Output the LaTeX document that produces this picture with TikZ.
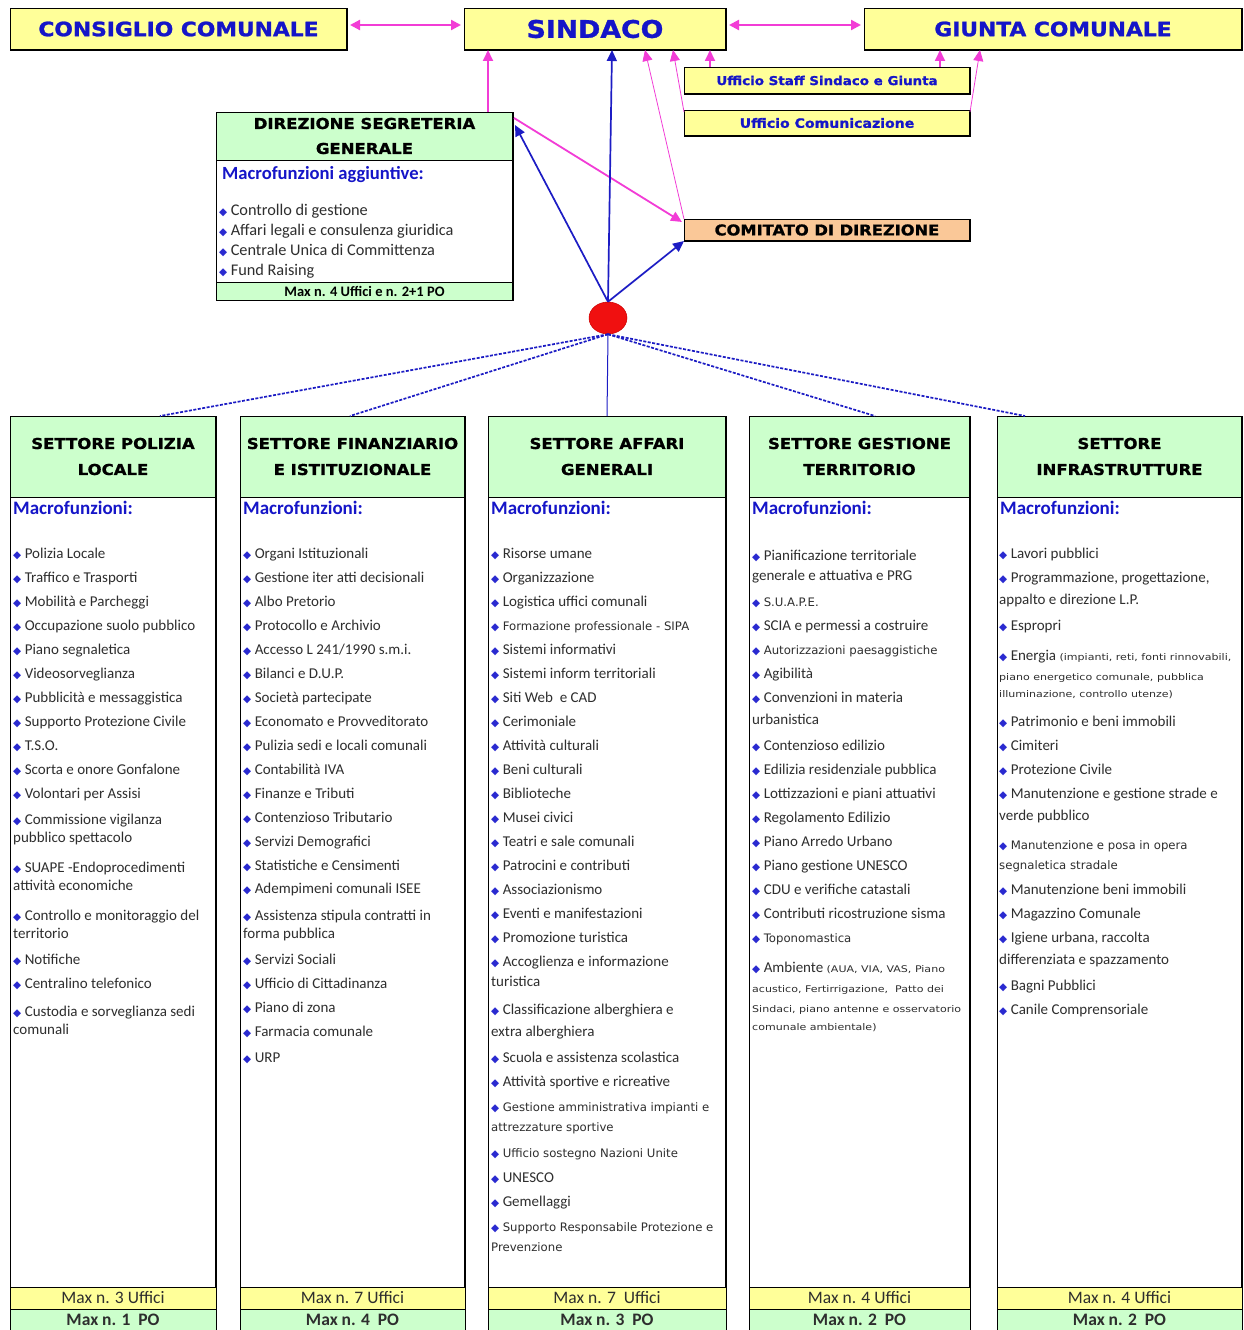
\documentclass[tikz,border=0pt]{standalone}
\usepackage{fontspec}
\setmainfont{Carlito}
\newfontfamily\dvfont{DejaVu Sans}
\newfontfamily\dvwide{DejaVu Sans}[FakeStretch=1.2]
\newfontfamily\blackfont{DejaVu Sans Bold}[FakeStretch=1.1, FakeBold=1.2]
\newfontfamily\libfont{Liberation Sans}
\usetikzlibrary{arrows.meta,calc,shapes.geometric}
\definecolor{yel}{HTML}{FFFF99}
\definecolor{grn}{HTML}{CCFFCC}
\definecolor{org}{HTML}{FAC898}
\definecolor{pnk}{HTML}{F23CD6}
\definecolor{blu}{HTML}{1C1CC4}
\definecolor{tblue}{HTML}{1515C8}
\definecolor{bul}{HTML}{2A2AD0}
\definecolor{txt}{HTML}{2E2E2E}
\definecolor{dotred}{HTML}{F01010}
\newcommand\bl{{\dvfont\fontsize{10.5}{9}\selectfont\textcolor{bul}{◆}}\hspace{3.5pt}}
\newcommand\smf{\dvfont\fontsize{11.7}{13}\selectfont}
\newcommand\xsf{\dvwide\fontsize{9.2}{10}\selectfont}
\tikzset{
  bx/.style={draw=black, line width=0.7pt, inner sep=0pt, outer sep=0pt},
  topt/.style={font=\blackfont\fontsize{19.8}{22}\selectfont, text=tblue},
  smallt/.style={font=\blackfont\fontsize{12.2}{14}\selectfont, text=tblue},
  hdr/.style={bx, fill=grn, align=center, font=\blackfont\fontsize{15}{26}\selectfont, text=black},
  tipa/.style={-{Triangle[length=11pt,width=10pt]}},
  pa/.style={draw=pnk, line width=1.8pt, tipa},
  pthin/.style={draw=pnk, line width=0.8pt, tipa},
  pdbl/.style={draw=pnk, line width=2.2pt, {Triangle[length=10pt,width=10pt]}-{Triangle[length=10pt,width=10pt]}},
  ba/.style={draw=blu, line width=1.7pt, tipa},
  dl/.style={draw=blu, line width=1.7pt, dash pattern=on 3pt off 1.5pt},
  item/.style={anchor=base west, inner sep=0pt, text=txt, font=\fontsize{15}{17}\selectfont},
  mf/.style={anchor=base west, inner sep=0pt, text=tblue, font=\bfseries\fontsize{19}{21}\selectfont},
}
\begin{document}
\begin{tikzpicture}[x=1pt,y=-1pt]
\fill[white] (0,0) rectangle (1244,1330);
\path[use as bounding box] (0,0) rectangle (1244,1330);

% top row
\node[bx, fill=yel, minimum width=337pt, minimum height=42pt, topt] (cc) at (178.5,29) {CONSIGLIO COMUNALE};
\node[bx, fill=yel, minimum width=262pt, minimum height=42pt, topt, font=\blackfont\fontsize{24.3}{26}\selectfont] (sin) at (595,29) {SINDACO};
\node[bx, fill=yel, minimum width=378pt, minimum height=42pt, topt] (gc) at (1053,29) {GIUNTA COMUNALE};
\node[bx, fill=yel, minimum width=286pt, minimum height=27pt, smallt] (staff) at (827,80.5) {Ufficio Staff Sindaco e Giunta};
\node[bx, fill=yel, minimum width=286pt, minimum height=26pt, smallt, font=\blackfont\fontsize{12.8}{14}\selectfont] (comm) at (827,123) {Ufficio Comunicazione};
\node[bx, fill=org, minimum width=286pt, minimum height=22pt, font=\blackfont\fontsize{14.8}{16}\selectfont] (com) at (827,230) {COMITATO DI DIREZIONE};

% direzione segreteria generale
\node[hdr, minimum width=297pt, minimum height=48pt, font=\blackfont\fontsize{15}{25}\selectfont] (dsgh) at (364.5,136) {DIREZIONE SEGRETERIA\\GENERALE};
\node[bx, fill=white, minimum width=297pt, minimum height=122pt] (dsgb) at (364.5,221) {};
\node[bx, fill=grn, minimum width=297pt, minimum height=18pt, font=\bfseries\fontsize{14.5}{16}\selectfont] (dsgf) at (364.5,291) {Max n. 4 Uffici e n. 2+1 PO};
\node[mf, font=\bfseries\fontsize{18.6}{21}\selectfont] (dsgm) at (222,179) {Macrofunzioni aggiuntive:};
\foreach \y/\t [count=\i] in {210/{Controllo di gestione}, 230/{Affari legali e consulenza giuridica}, 250/{Centrale Unica di Committenza}, 270/{Fund Raising}}
  \node[item, font=\fontsize{16.3}{17}\selectfont] (dsgi\i) at (219,\y+5) {\bl\t};

\foreach \n in {cc,sin,gc,staff,comm,com}
  \draw[line width=1.8pt] (\n.south west) -- (\n.south east) -- (\n.north east);

% red dot
\node[ellipse, fill=dotred, draw=red!80!black, line width=0.5pt, minimum width=38pt, minimum height=32pt, inner sep=0pt] (dot) at (608,318) {};

% columns
\foreach \i/\l/\r/\nu/\np in {1/10/216/3/1, 2/240/465/7/4, 3/488/726/{7\ }/3, 4/749/970/4/2, 5/997/1242/4/2}{
  \pgfmathsetmacro\cx{(\l+\r)/2}
  \pgfmathsetmacro\w{\r-\l}
  \node[bx, fill=white, minimum width=\w pt, minimum height=790pt] (b\i) at (\cx,892) {};
  \node[bx, fill=yel, minimum width=\w pt, minimum height=22pt, font=\fontsize{17.5}{18}\selectfont, text=txt] (u\i) at (\cx,1298) {Max n. \nu\ Uffici};
  \node[bx, fill=grn, minimum width=\w pt, minimum height=22pt, font=\bfseries\fontsize{17.5}{18}\selectfont, text=txt] (p\i) at (\cx,1320) {Max n. \np\ \ PO};
  \node[mf] (m\i) at (\l+3,514) {Macrofunzioni:};
}
\node[hdr, minimum width=206pt, minimum height=81pt] (h1) at (113,456.5) {SETTORE POLIZIA\\LOCALE};
\node[hdr, minimum width=225pt, minimum height=81pt] (h2) at (352.5,456.5) {SETTORE FINANZIARIO\\E ISTITUZIONALE};
\node[hdr, minimum width=238pt, minimum height=81pt] (h3) at (607,456.5) {SETTORE AFFARI\\GENERALI};
\node[hdr, minimum width=221pt, minimum height=81pt] (h4) at (859.5,456.5) {SETTORE GESTIONE\\TERRITORIO};
\node[hdr, minimum width=245pt, minimum height=81pt] (h5) at (1119.5,456.5) {SETTORE\\INFRASTRUTTURE};

\foreach \n in {h1,h2,h3,h4,h5,b1,b2,b3,b4,b5,dsgh,dsgb,dsgf}
  \draw[line width=1.4pt] (\n.south east) -- (\n.north east);

% column 1
\foreach \y/\t [count=\i] in {
 554/{\bl Polizia Locale}, 578/{\bl Traffico e Trasporti}, 602/{\bl Mobilità e Parcheggi},
 626/{\bl Occupazione suolo pubblico}, 650/{\bl Piano segnaletica}, 674/{\bl Videosorveglianza},
 698/{\bl Pubblicità e messaggistica}, 722/{\bl Supporto Protezione Civile}, 746/{\bl T.S.O.},
 770/{\bl Scorta e onore Gonfalone}, 794/{\bl Volontari per Assisi},
 820/{\bl Commissione vigilanza}, 838/{pubblico spettacolo},
 868/{\bl SUAPE -Endoprocedimenti}, 886/{attività economiche},
 916/{\bl Controllo e monitoraggio del}, 934/{territorio},
 960/{\bl Notifiche}, 984/{\bl Centralino telefonico},
 1012/{\bl Custodia e sorveglianza sedi}, 1030/{comunali}}
  \node[item] (c1i\i) at (13,\y+4.5) {\t};

% column 2
\foreach \y/\t [count=\i] in {
 554/{\bl Organi Istituzionali}, 578/{\bl Gestione iter atti decisionali}, 602/{\bl Albo Pretorio},
 626/{\bl Protocollo e Archivio}, 650/{\bl Accesso L 241/1990 s.m.i.}, 674/{\bl Bilanci e D.U.P.},
 698/{\bl Società partecipate}, 722/{\bl Economato e Provveditorato}, 746/{\bl Pulizia sedi e locali comunali},
 770/{\bl Contabilità IVA}, 794/{\bl Finanze e Tributi}, 818/{\bl Contenzioso Tributario},
 842/{\bl Servizi Demografici}, 866/{\bl Statistiche e Censimenti}, 889/{\bl Adempimeni comunali ISEE},
 916/{\bl Assistenza stipula contratti in}, 934/{forma pubblica},
 960/{\bl Servizi Sociali}, 984/{\bl Ufficio di Cittadinanza}, 1008/{\bl Piano di zona},
 1032/{\bl Farmacia comunale}, 1058/{\bl URP}}
  \node[item] (c2i\i) at (243,\y+4.5) {\t};

% column 3
\foreach \y/\t [count=\i] in {
 554/{\bl Risorse umane}, 578/{\bl Organizzazione}, 602/{\bl Logistica uffici comunali},
 626/{\bl{\smf Formazione professionale - SIPA}}, 650/{\bl Sistemi informativi},
 674/{\bl Sistemi inform territoriali}, 698/{\bl Siti Web~ e CAD}, 722/{\bl Cerimoniale},
 746/{\bl Attività culturali}, 770/{\bl Beni culturali}, 794/{\bl Biblioteche},
 818/{\bl Musei civici}, 842/{\bl Teatri e sale comunali}, 866/{\bl Patrocini e contributi},
 890/{\bl Associazionismo}, 914/{\bl Eventi e manifestazioni}, 938/{\bl Promozione turistica},
 962/{\bl Accoglienza e informazione}, 982/{turistica},
 1010/{\bl Classificazione alberghiera e}, 1032/{extra alberghiera},
 1058/{\bl Scuola e assistenza scolastica}, 1082/{\bl Attività sportive e ricreative},
 1107/{\bl{\smf Gestione amministrativa impianti e}}, 1127/{{\smf attrezzature sportive}},
 1153/{\bl{\smf Ufficio sostegno Nazioni Unite}}, 1178/{\bl UNESCO}, 1202/{\bl Gemellaggi},
 1227/{\bl{\smf Supporto Responsabile Protezione e}}, 1247/{{\smf Prevenzione}}}
  \node[item] (c3i\i) at (491,\y+4.5) {\t};

% column 4
\foreach \y/\t [count=\i] in {
 556/{\bl Pianificazione territoriale}, 576/{generale e attuativa e PRG},
 602/{\bl{\smf S.U.A.P.E.}}, 626/{\bl SCIA e permessi a costruire},
 650/{\bl{\smf Autorizzazioni paesaggistiche}}, 674/{\bl Agibilità},
 698/{\bl Convenzioni in materia}, 720/{urbanistica},
 746/{\bl Contenzioso edilizio}, 770/{\bl Edilizia residenziale pubblica},
 794/{\bl Lottizzazioni e piani attuativi}, 818/{\bl Regolamento Edilizio},
 842/{\bl Piano Arredo Urbano}, 866/{\bl Piano gestione UNESCO},
 890/{\bl CDU e verifiche catastali}, 914/{\bl Contributi ricostruzione sisma},
 938/{\bl{\smf Toponomastica}},
 968/{\bl Ambiente {\xsf (AUA, VIA, VAS, Piano}}, 988/{{\xsf acustico, Fertirrigazione,~ Patto dei}},
 1008/{{\xsf Sindaci, piano antenne e osservatorio}}, 1026/{{\xsf comunale ambientale)}}}
  \node[item] (c4i\i) at (752,\y+4.5) {\t};

% column 5
\foreach \y/\t [count=\i] in {
 554/{\bl Lavori pubblici}, 578/{\bl Programmazione, progettazione,}, 600/{appalto e direzione L.P.},
 626/{\bl Espropri},
 656/{\bl Energia {\xsf (impianti, reti, fonti rinnovabili,}}, 676/{{\xsf piano energetico comunale, pubblica}},
 693/{{\xsf illuminazione, controllo utenze)}},
 722/{\bl Patrimonio e beni immobili}, 746/{\bl Cimiteri}, 770/{\bl Protezione Civile},
 794/{\bl Manutenzione e gestione strade e}, 816/{verde pubblico},
 845/{\bl{\smf Manutenzione e posa in opera}}, 865/{{\smf segnaletica stradale}},
 890/{\bl Manutenzione beni immobili}, 914/{\bl Magazzino Comunale},
 938/{\bl Igiene urbana, raccolta}, 960/{differenziata e spazzamento},
 986/{\bl Bagni Pubblici}, 1010/{\bl Canile Comprensoriale}}
  \node[item] (c5i\i) at (999,\y+4.5) {\t};

% connectors: pink
\draw[pdbl] ([yshift=4pt,xshift=3pt]cc.east) -- ([yshift=4pt,xshift=-3pt]sin.west);
\draw[pdbl] ([yshift=4pt,xshift=3pt]sin.east) -- ([yshift=4pt,xshift=-3pt]gc.west);
\draw[pa] ($(dsgh.north east)+(-25,0)$) coordinate (q1) -- (q1 |- sin.south);
\draw[pthin] (com.north west) -- ($(sin.south west)+(181,0)$);
\draw[pthin] ($(comm.north west)+(0,2)$) -- ($(sin.south west)+(209,0)$);
\draw[pa] ($(staff.north west)+(26,0)$) coordinate (q2) -- (q2 |- sin.south);
\draw[pa] ($(staff.north east)+(-30,0)$) coordinate (q3) -- (q3 |- gc.south);
\draw[pthin] ($(comm.north east)+(0,2)$) -- ($(gc.south west)+(116,0)$);
\draw[pa] ($(dsgh.north east)+(1,6)$) -- ($(com.west)+(-2,-8)$);

% connectors: blue
\draw[ba] (dot.north) -- ($(sin.south)+(17,0)$);
\draw[ba] (dot.north) -- ($(dsgh.north east)+(2,13)$);
\draw[ba] (dot.north) -- (com.south west);

% dashed to sectors
\draw[dl] (dot.south) -- ($(h1.north west)+(150,0)$);
\draw[dl] (dot.south) -- ($(h2.north west)+(110,0)$);
\draw[blu, line width=1pt] (dot.south) -- (h3.north);
\draw[dl] (dot.south) -- ($(h4.north west)+(126,0)$);
\draw[dl] (dot.south) -- ($(h5.north west)+(28,0)$);
\end{tikzpicture}
\end{document}
